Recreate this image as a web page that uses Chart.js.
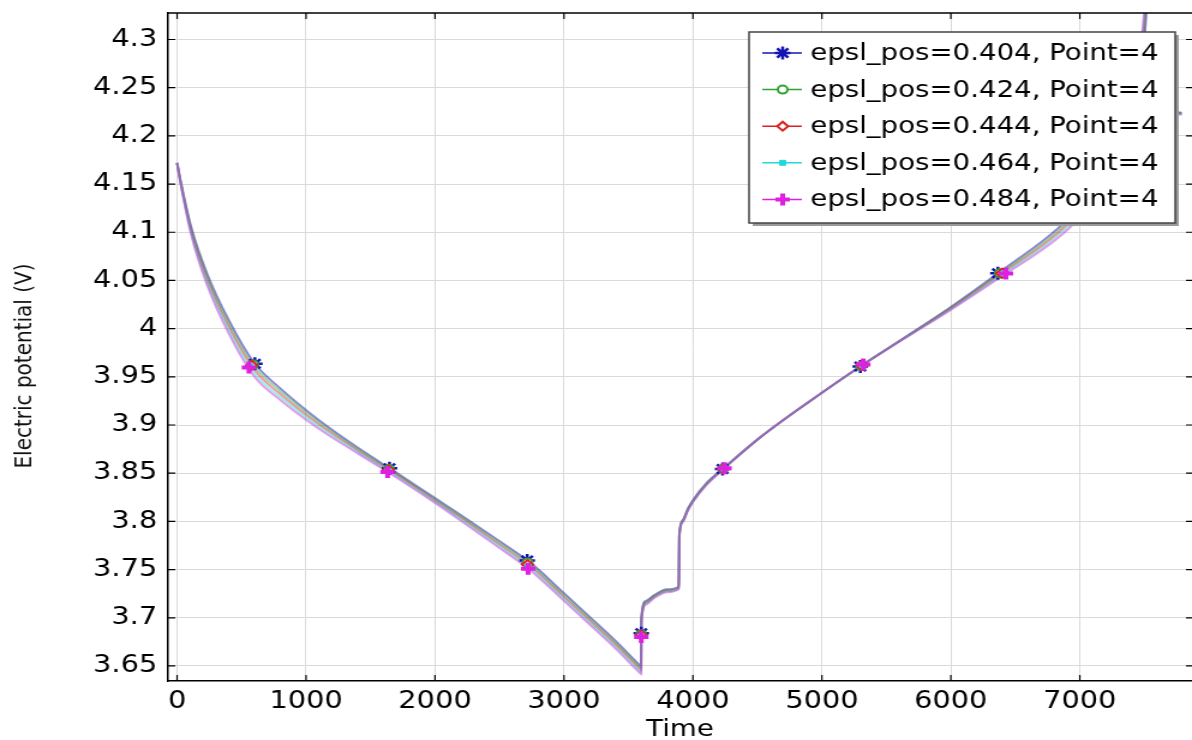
<!DOCTYPE html>
<html>
<head>
<meta charset="utf-8">
<title>Electric potential vs time</title>
<script src="https://cdn.jsdelivr.net/npm/chart.js@4.4.1/dist/chart.umd.min.js"></script>
<style>
  html, body { margin: 0; padding: 0; background: #fff; overflow: hidden; }
  /* the original export is stretched sideways, so the chart is drawn narrower and widened */
  #wrap { width: 993px; height: 740px; transform: scaleX(1.2004); transform-origin: 0 0; }
</style>
</head>
<body>
<div id="wrap"><canvas id="potentialChart" width="993" height="740"></canvas></div>
<script>
// time axis shared by all curves (s), null entry breaks the line
const time = [0, 30, 110, 230, 400, 600, 800, 1090, 1400, 1700,
              2000, 2205, 2450, 2738, 3000, 3195, 3400, 3590, 3598, 3600, 3635,
              3700, 3800, 3890, 3895, 3920, 3960, 4000, 4100, 4240, 4530,
              4920, 5300, 5650, 6000, 6370, 6830, 7000, 7200, 7350, 7450,
              7500, 7540, 7600, 7730, 7790];

const v404 = [4.172, 4.1515, 4.105, 4.058, 4.009, 3.964, 3.938, 3.906, 3.8766, 3.8506,
              3.8242, 3.8062, 3.7840, 3.7573, 3.7255, 3.7015, 3.676, 3.6505, 3.6495, 3.6995, 3.7175,
              3.7235, 3.7295, 3.7325, 3.7875, 3.801, 3.813, 3.822, 3.839, 3.8555, 3.888,
              3.926, 3.961, 3.9915, 4.0225, 4.058, 4.104, 4.128, 4.168, 4.2125, 4.260,
              4.300, 4.38, null, 4.225, 4.224];
const v424 = [4.172, 4.1508, 4.103, 4.055, 4.0055, 3.9605, 3.935, 3.9038, 3.8751, 3.8494,
              3.823, 3.8047, 3.7823, 3.7553, 3.7235, 3.6995, 3.674, 3.6485, 3.6475, 3.6983, 3.7165,
              3.7228, 3.7288, 3.7318, 3.7868, 3.8005, 3.8125, 3.8215, 3.8385, 3.8553, 3.888,
              3.926, 3.961, 3.9913, 4.0218, 4.0565, 4.1015, 4.125, 4.165, 4.2113, 4.2625,
              4.3075, 4.39, null, 4.2245, 4.2235];
const v444 = [4.172, 4.150, 4.101, 4.052, 4.002, 3.957, 3.932, 3.9015, 3.8736, 3.8481,
              3.8217, 3.8032, 3.7805, 3.7533, 3.7215, 3.6975, 3.672, 3.6465, 3.6455, 3.697, 3.7155,
              3.722, 3.728, 3.731, 3.786, 3.800, 3.812, 3.821, 3.838, 3.855, 3.888,
              3.926, 3.961, 3.991, 4.021, 4.055, 4.099, 4.122, 4.162, 4.210, 4.265,
              4.315, 4.40, null, 4.224, 4.223];
const v464 = [4.172, 4.1493, 4.099, 4.049, 3.9985, 3.9535, 3.929, 3.8993, 3.8721, 3.8469,
              3.8205, 3.8017, 3.7788, 3.7513, 3.7195, 3.6955, 3.670, 3.6445, 3.6435, 3.6958, 3.7145,
              3.7213, 3.7273, 3.7303, 3.7853, 3.7995, 3.8115, 3.8205, 3.8375, 3.8548, 3.888,
              3.926, 3.961, 3.9908, 4.0203, 4.0535, 4.0965, 4.119, 4.159, 4.2088, 4.2675,
              4.3225, 4.41, null, 4.2235, 4.2225];
const v484 = [4.172, 4.1485, 4.097, 4.046, 3.995, 3.950, 3.926, 3.897, 3.8706, 3.8456,
              3.8192, 3.8002, 3.7770, 3.7493, 3.7175, 3.6935, 3.668, 3.6425, 3.6415, 3.6945, 3.7135,
              3.7205, 3.7265, 3.7295, 3.7845, 3.799, 3.811, 3.820, 3.837, 3.8545, 3.888,
              3.926, 3.961, 3.9905, 4.0195, 4.052, 4.094, 4.116, 4.156, 4.2075, 4.270,
              4.330, 4.42, null, 4.223, 4.222];

// marker points (every few solver steps) for each curve
const markT404 = [603, 1647, 2715, 3599.4, 4230, 5298, 6365];
const markV404 = [3.9636, 3.8552, 3.7594, 3.684, 3.8543, 3.9608, 4.0575];
const markT424 = [590, 1643, 2717, 3599.4, 4234, 5304, 6380];
const markV424 = [3.9628, 3.8543, 3.7573, 3.683, 3.8546, 3.9613, 4.0575];
const markT444 = [578, 1640, 2718, 3599.4, 4237, 5309, 6395];
const markV444 = [3.962, 3.8532, 3.7552, 3.682, 3.8546, 3.9618, 4.0574];
const markT464 = [567, 1636, 2720, 3599.4, 4241, 5315, 6410];
const markV464 = [3.9609, 3.8523, 3.753, 3.681, 3.8548, 3.9623, 4.0572];
const markT484 = [557, 1632, 2722, 3599.4, 4245, 5321, 6427];
const markV484 = [3.9597, 3.8513, 3.7508, 3.680, 3.8551, 3.9628, 4.0572];

const seriesLabels = ['epsl_pos=0.404, Point=4', 'epsl_pos=0.424, Point=4', 'epsl_pos=0.444, Point=4',
                      'epsl_pos=0.464, Point=4', 'epsl_pos=0.484, Point=4'];

const xTicks = [0, 1000, 2000, 3000, 4000, 5000, 6000, 7000];
const yTicks = [3.65, 3.7, 3.75, 3.8, 3.85, 3.9, 3.95, 4, 4.05, 4.1, 4.15, 4.2, 4.25, 4.3];

const FONT = 'DejaVu Sans';

const colors = ['#1414b4', '#33a333', '#dd2020', '#22d8d8', '#e020e0'];
const lineColors = ['rgba(20,20,180,0.5)', 'rgba(51,163,51,0.45)', 'rgba(221,32,32,0.45)',
                    'rgba(34,216,216,0.45)', 'rgba(200,60,220,0.5)'];
const markerStyles = [
    { pointStyle: 'star', radius: 6.5, borderWidth: 2.5, fill: '#1414b4' },
    { pointStyle: 'circle', radius: 4, borderWidth: 2, fill: '#ffffff' },
    { pointStyle: 'rectRot', radius: 4.5, borderWidth: 2, fill: '#ffffff' },
    { pointStyle: 'rect', radius: 3.5, borderWidth: 1, fill: '#22d8d8' },
    { pointStyle: 'cross', radius: 6, borderWidth: 4, fill: '#e020e0' }
];

function toPoints(ts, vs) {
    return ts.map((t, i) => ({ x: t, y: vs[i] }));
}

const curves = [v404, v424, v444, v464, v484];
const markTimes = [markT404, markT424, markT444, markT464, markT484];
const markVolts = [markV404, markV424, markV444, markV464, markV484];

let datasets = [];
curves.forEach((vals, i) => {
    datasets.push({
        label: seriesLabels[i],
        data: toPoints(time, vals),
        borderColor: lineColors[i],
        borderWidth: 2,
        pointRadius: 0,
        cubicInterpolationMode: 'monotone',
        spanGaps: false,
        order: 14 - i
    });
});
markTimes.forEach((ts, i) => {
    const m = markerStyles[i];
    datasets.push({
        label: seriesLabels[i] + ' markers',
        data: toPoints(ts, markVolts[i]),
        showLine: false,
        pointStyle: m.pointStyle,
        pointRadius: m.radius,
        pointBorderWidth: m.borderWidth,
        pointBorderColor: colors[i],
        pointBackgroundColor: m.fill,
        order: 4 - i
    });
});

// frame: top border, inward ticks on all four sides, rotated y title
const framePlugin = {
    id: 'frame',
    afterDatasetsDraw(chart) {
        const { ctx, chartArea: a, scales: { x, y } } = chart;
        ctx.save();
        ctx.strokeStyle = '#000';
        ctx.lineWidth = 1.5;
        ctx.beginPath();
        ctx.moveTo(a.left, a.top);
        ctx.lineTo(a.right, a.top);
        ctx.stroke();

        ctx.lineWidth = 1.2;
        ctx.beginPath();
        xTicks.forEach(t => {
            const px = x.getPixelForValue(t);
            ctx.moveTo(px, a.bottom); ctx.lineTo(px, a.bottom - 6);
            ctx.moveTo(px, a.top); ctx.lineTo(px, a.top + 6);
        });
        yTicks.forEach(v => {
            const py = y.getPixelForValue(v);
            ctx.moveTo(a.left, py); ctx.lineTo(a.left + 6, py);
            ctx.moveTo(a.right, py); ctx.lineTo(a.right - 5, py);
        });
        ctx.stroke();

        ctx.translate(21, 366);
        ctx.rotate(-Math.PI / 2);
        ctx.fillStyle = '#111';
        ctx.font = '20px "' + FONT + '"';
        ctx.textAlign = 'center';
        ctx.textBaseline = 'middle';
        ctx.fillText('Electric potential (V)', 0, 0);
        ctx.restore();
    }
};

// boxed legend drawn over the curves, like the original
const legendPlugin = {
    id: 'boxLegend',
    afterDraw(chart) {
        const ctx = chart.ctx;
        const box = { left: 624, top: 32, right: 979, bottom: 223 };
        ctx.save();
        ctx.fillStyle = '#9a9a9a';
        ctx.fillRect(box.left + 3, box.top + 3, box.right - box.left, box.bottom - box.top);
        ctx.fillStyle = '#fff';
        ctx.fillRect(box.left, box.top, box.right - box.left, box.bottom - box.top);
        ctx.strokeStyle = '#444';
        ctx.lineWidth = 1.5;
        ctx.strokeRect(box.left, box.top, box.right - box.left, box.bottom - box.top);

        ctx.font = '23px "' + FONT + '"';
        ctx.textBaseline = 'middle';
        ctx.textAlign = 'left';
        seriesLabels.forEach((label, i) => {
            const rowY = 53 + i * 36.6;
            ctx.strokeStyle = colors[i];
            ctx.lineWidth = 1.5;
            ctx.beginPath();
            ctx.moveTo(635, rowY);
            ctx.lineTo(668, rowY);
            ctx.stroke();

            const m = markerStyles[i];
            ctx.lineWidth = m.borderWidth;
            ctx.fillStyle = m.fill;
            Chart.helpers.drawPoint(ctx, {
                pointStyle: m.pointStyle, radius: m.radius,
                borderWidth: m.borderWidth, rotation: 0
            }, 652, rowY);

            ctx.fillStyle = '#000';
            ctx.fillText(label, 675, rowY + 1);
        });
        ctx.restore();
    }
};

new Chart(document.getElementById('potentialChart').getContext('2d'), {
    type: 'line',
    data: { datasets: datasets },
    options: {
        responsive: false,
        animation: false,
        devicePixelRatio: 1,
        layout: { autoPadding: false, padding: { top: 13, left: 0, right: 0, bottom: 0 } },
        plugins: {
            legend: { display: false },
            tooltip: { enabled: false }
        },
        scales: {
            x: {
                type: 'linear',
                min: -70,
                max: 7870,
                afterBuildTicks: s => { s.ticks = xTicks.map(v => ({ value: v })); },
                afterFit: s => { s.height = 59; s.paddingLeft = 0; s.paddingRight = 0; },
                ticks: {
                    autoSkip: false,
                    maxRotation: 0,
                    padding: 6,
                    color: '#000',
                    font: { family: FONT, size: 24 },
                    callback: v => String(v)
                },
                grid: { color: '#dadada', lineWidth: 1, drawTicks: false },
                border: { color: '#000', width: 1.5 },
                title: {
                    display: true,
                    text: 'Time',
                    color: '#000',
                    font: { family: FONT, size: 23, lineHeight: 1 },
                    padding: { top: 0, bottom: -1.5 }
                }
            },
            y: {
                type: 'linear',
                min: 3.6344,
                max: 4.3275,
                afterBuildTicks: s => { s.ticks = yTicks.map(v => ({ value: v })); },
                afterFit: s => { s.width = 140; s.paddingTop = 0; s.paddingBottom = 0; },
                ticks: {
                    padding: 9,
                    color: '#000',
                    font: { family: FONT, size: 24 },
                    callback: v => String(parseFloat(v.toFixed(2)))
                },
                grid: { color: '#dadada', lineWidth: 1, drawTicks: false },
                border: { color: '#000', width: 1.5 }
            }
        }
    },
    plugins: [framePlugin, legendPlugin]
});
</script>
</body>
</html>
